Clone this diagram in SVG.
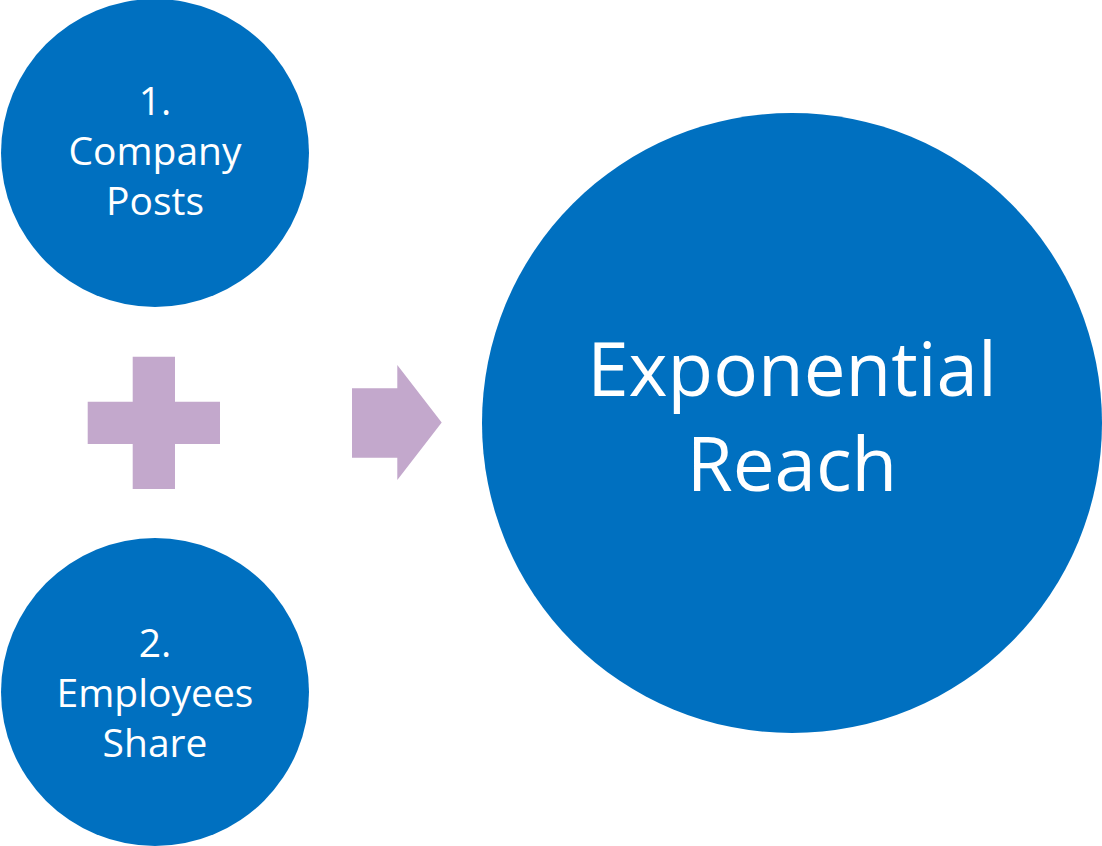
<svg xmlns="http://www.w3.org/2000/svg" width="1102" height="846" viewBox="0 0 1102 846">
<style>
.node{fill:#0070C0}
.sym{fill:#C3A8CC}
.t{fill:#FFFFFF;font-family:"Open Sans","Noto Sans",sans-serif;text-anchor:middle}
.s{font-size:39px}
.b{font-size:74.5px}
</style>
<rect width="1102" height="846" fill="#FFFFFF"/>
<g id="node-company-posts">
<circle class="node" cx="155" cy="153" r="154"/>
<text class="t s" x="155" y="115">1.</text>
<text class="t s" x="155" y="165">Company</text>
<text class="t s" x="155" y="215">Posts</text>
</g>
<g id="node-employees-share">
<circle class="node" cx="155" cy="692" r="154"/>
<text class="t s" x="155" y="657">2.</text>
<text class="t s" x="155" y="707">Employees</text>
<text class="t s" x="155" y="757">Share</text>
</g>
<g id="node-exponential-reach">
<circle class="node" cx="792" cy="423" r="310"/>
<text class="t b" x="792" y="396">Exponential</text>
<text class="t b" x="792" y="491">Reach</text>
</g>
<g id="connectors">
<path id="plus" class="sym" d="M132.7 356.7H175V401.7H220V444H175V489H132.7V444H87.7V401.7H132.7Z"/>
<path id="arrow" class="sym" d="M352 388.3H397.3V365L441.7 422.5L397.3 480V457.7H352Z"/>
</g>
</svg>
